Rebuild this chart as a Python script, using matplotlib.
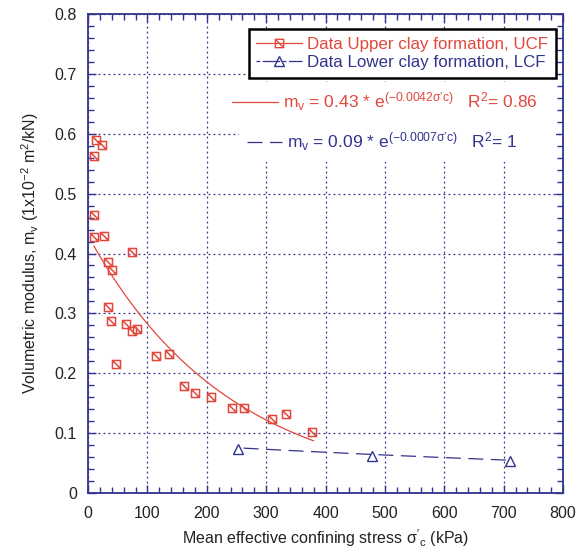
import matplotlib
matplotlib.use("Agg")
import matplotlib.pyplot as plt
from matplotlib.path import Path
from matplotlib.ticker import MultipleLocator
import numpy as np

plt.rcParams["font.family"] = ["Liberation Sans", "DejaVu Sans"]
plt.rcParams["mathtext.fontset"] = "custom"
plt.rcParams["mathtext.rm"] = "Liberation Sans"
plt.rcParams["mathtext.it"] = "Liberation Sans"

# ── Daten ────────────────────────────────────────────────────
ucf_x = [13.5, 24, 10, 10, 10, 27.5, 74.5, 34, 41, 34, 38.5, 63.5, 73.5, 82,
         47.5, 114, 137, 161, 180.5, 207, 243, 262.5, 310, 333, 378]
ucf_y = [0.590, 0.581, 0.563, 0.465, 0.428, 0.430, 0.402, 0.385, 0.373, 0.311,
         0.288, 0.282, 0.271, 0.274, 0.216, 0.228, 0.232, 0.179, 0.167, 0.160,
         0.142, 0.142, 0.123, 0.132, 0.102]
lcf_x = [252.5, 478, 710]
lcf_y = [0.073, 0.062, 0.053]

# Fit-Parameter (m_v = a * exp(b * sigma'_c))
ucf_a, ucf_b, ucf_range = 0.43, -0.0042, (10, 380)
lcf_a, lcf_b, lcf_range = 0.09, -0.0007, (262, 705)

RED = "#e2473c"
NAVY = "#32338c"
FS = 11.5

# Quadrat mit Diagonale als Marker
sq_marker = Path(
    [(-1, -1), (1, -1), (1, 1), (-1, 1), (-1, -1), (-1, 1), (1, -1)],
    [Path.MOVETO, Path.LINETO, Path.LINETO, Path.LINETO, Path.CLOSEPOLY,
     Path.MOVETO, Path.LINETO])

fig = plt.figure(figsize=(5.88, 5.54), dpi=100)
ax = fig.add_axes([0.1497, 0.1101, 0.8078, 0.8646])

# ── Messpunkte ───────────────────────────────────────────────
ax.plot(ucf_x, ucf_y, linestyle="none", marker=sq_marker, markersize=5.8,
        markerfacecolor="none", markeredgecolor=RED, markeredgewidth=1.1,
        zorder=4)
ax.plot(lcf_x, lcf_y, linestyle="none", marker="^", markersize=7,
        markerfacecolor="none", markeredgecolor=NAVY, markeredgewidth=1.0,
        zorder=4)

# ── Fit-Kurven ───────────────────────────────────────────────
xu = np.linspace(*ucf_range, 200)
fit_u, = ax.plot(xu, ucf_a * np.exp(ucf_b * xu), color=RED, linewidth=0.9,
                 zorder=3)
xl = np.linspace(*lcf_range, 200)
fit_l, = ax.plot(xl, lcf_a * np.exp(lcf_b * xl), color=NAVY, linewidth=0.9,
                 dashes=(12, 6), zorder=3)

# ── Achsen ───────────────────────────────────────────────────
ax.set_xlim(0, 800)
ax.set_ylim(0, 0.8)
ax.xaxis.set_major_locator(MultipleLocator(100))
ax.xaxis.set_minor_locator(MultipleLocator(20))
ax.yaxis.set_major_locator(MultipleLocator(0.1))
ax.yaxis.set_minor_locator(MultipleLocator(0.02))
ax.yaxis.set_major_formatter(lambda v, p: "0" if abs(v) < 1e-9 else f"{v:.1f}")
ax.tick_params(which="both", direction="in", top=True, right=True,
               color=NAVY, labelcolor="#222222", labelsize=FS)
ax.tick_params(axis="x", pad=9)
ax.tick_params(axis="y", pad=8)
ax.tick_params(which="major", length=6, width=1)
ax.tick_params(which="minor", length=4, width=1)
for s in ax.spines.values():
    s.set_color(NAVY)
    s.set_linewidth(1.3)
ax.grid(True, which="major", color=NAVY, linestyle=(0, (1.5, 2.5)),
        linewidth=0.9)
ax.set_axisbelow(True)

ax.set_xlabel("Mean effective confining stress $\\sigma'_c$ (kPa)",
              fontsize=FS, color="#222222", labelpad=5)
ax.set_ylabel("Volumetric modulus, m$_v$ (1x10$^{-2}$ m$^2$/kN)",
              fontsize=FS, color="#222222", labelpad=10)

# ── Legende ──────────────────────────────────────────────────
h_u, = ax.plot([], [], color=RED, linewidth=0.9, marker=sq_marker,
               markersize=6, markerfacecolor="none", markeredgecolor=RED)
h_l, = ax.plot([], [], color=NAVY, linewidth=0.9, dashes=(3, 2, 14, 2),
               marker="^", markersize=6.5, markerfacecolor="none",
               markeredgecolor=NAVY)
leg = ax.legend([h_u, h_l],
                ["Data Upper clay formation, UCF",
                 "Data Lower clay formation, LCF"],
                loc="upper right", bbox_to_anchor=(0.985, 0.968),
                fontsize=12.2, labelcolor=[RED, NAVY], frameon=True,
                fancybox=False, edgecolor="black", framealpha=1,
                handlelength=2.7, handletextpad=0.3, borderpad=0.45,
                labelspacing=0.2, borderaxespad=0, numpoints=1)
leg.get_frame().set_linewidth(1.8)
ax.add_artist(leg)

# Gleichungen der Fit-Kurven
eq_u = "m$_v$ = 0.43 * e$^{(-0.0042\\sigma’c)}$   R$^2$= 0.86   "
eq_l = "m$_v$ = 0.09 * e$^{(-0.0007\\sigma’c)}$   R$^2$= 1       "
leg2 = ax.legend([fit_u], [eq_u], loc="upper left",
                 bbox_to_anchor=(0.284, 0.858), fontsize=12.5,
                 labelcolor=[RED], frameon=True, fancybox=False,
                 edgecolor="none", facecolor="white", framealpha=1,
                 handlelength=2.65, handletextpad=0.3, borderpad=0.5,
                 borderaxespad=0)
ax.add_artist(leg2)
leg3 = ax.legend([fit_l], [eq_l], loc="upper left",
                 bbox_to_anchor=(0.317, 0.775), fontsize=12.5,
                 labelcolor=[NAVY], frameon=True, fancybox=False,
                 edgecolor="none", facecolor="white", framealpha=1,
                 handlelength=2.0, handletextpad=0.3, borderpad=0.5,
                 borderaxespad=0)

fig.savefig("out.png", dpi=100)
